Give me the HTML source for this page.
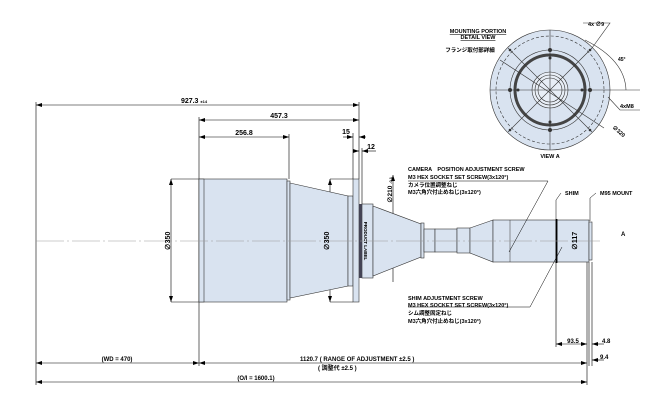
<!DOCTYPE html>
<html><head><meta charset="utf-8"><style>
html,body{margin:0;padding:0;background:#fff;}
svg{display:block;font-family:"Liberation Sans","Noto Sans CJK JP",sans-serif;font-weight:bold;}
</style></head><body>
<svg width="670" height="400" viewBox="0 0 670 400" xmlns="http://www.w3.org/2000/svg">
<defs>
<marker id="a" markerWidth="6" markerHeight="4" refX="6" refY="2" orient="auto-start-reverse" markerUnits="userSpaceOnUse"><path d="M0,0 L6,2 L0,4z" fill="#000"/></marker>
</defs>
<g stroke="#000" stroke-width="0.6" fill="none">
<!-- extension lines -->
<line x1="36" y1="102" x2="36" y2="385"/>
<line x1="199" y1="117" x2="199" y2="366"/>
<line x1="289" y1="134" x2="289" y2="179"/>
<line x1="359" y1="102" x2="359" y2="179"/>
<line x1="353" y1="133" x2="353" y2="179"/>
<line x1="362" y1="148" x2="362" y2="204"/>
<line x1="587" y1="262" x2="587" y2="385"/>
<line x1="589" y1="262" x2="589" y2="366"/>
<line x1="592" y1="262" x2="592" y2="366"/>
<line x1="556" y1="262" x2="556" y2="347"/>
<!-- dimension lines -->
<line x1="36" y1="105" x2="359" y2="105" marker-start="url(#a)" marker-end="url(#a)"/>
<line x1="199" y1="120" x2="359" y2="120" marker-start="url(#a)" marker-end="url(#a)"/>
<line x1="199" y1="137" x2="289" y2="137" marker-start="url(#a)" marker-end="url(#a)"/>
<line x1="343" y1="137" x2="353" y2="137" marker-end="url(#a)"/>
<line x1="359" y1="137" x2="366" y2="137" marker-start="url(#a)"/>
<line x1="354" y1="151" x2="359" y2="151" marker-end="url(#a)"/>
<line x1="362" y1="151" x2="376" y2="151" marker-start="url(#a)"/>
<line x1="36" y1="363" x2="199" y2="363" marker-start="url(#a)" marker-end="url(#a)"/>
<line x1="199" y1="363" x2="587" y2="363" marker-start="url(#a)" marker-end="url(#a)"/>
<line x1="36" y1="382" x2="587" y2="382" marker-start="url(#a)" marker-end="url(#a)"/>
<line x1="556" y1="344" x2="587" y2="344" marker-start="url(#a)" marker-end="url(#a)"/>
<line x1="592" y1="344" x2="604" y2="344" marker-start="url(#a)"/>
<line x1="592" y1="360" x2="604" y2="360" marker-start="url(#a)"/>
<!-- vertical dia dims -->
<line x1="171" y1="179" x2="171" y2="302" marker-start="url(#a)" marker-end="url(#a)"/>
<line x1="171" y1="179" x2="199" y2="179"/><line x1="171" y1="302" x2="199" y2="302"/>
<line x1="330" y1="179" x2="330" y2="302" marker-start="url(#a)" marker-end="url(#a)"/>
<line x1="330" y1="179" x2="353" y2="179"/><line x1="330" y1="302" x2="353" y2="302"/>
<line x1="393" y1="175" x2="393" y2="282" marker-start="url(#a)"/>
<line x1="578" y1="220" x2="578" y2="262" marker-start="url(#a)" marker-end="url(#a)"/>
</g>
<!-- body -->
<g stroke="#333" stroke-width="0.6" fill="#d9e3f0">
<rect x="199" y="179" width="88" height="123"/>
<rect x="199" y="179" width="5" height="123"/>
<rect x="287" y="181" width="3" height="119"/>
<path d="M290,183 L348,196 L348,286 L290,298z"/>
<rect x="348" y="196" width="5" height="90"/>
<rect x="353" y="179" width="6" height="123"/>
<rect x="362" y="204" width="11" height="74"/>
<path d="M373,206 L421,224 L421,257 L373,276z"/>
<rect x="421" y="223" width="3" height="35"/>
<rect x="424" y="229" width="11" height="23"/>
<rect x="435" y="229" width="22" height="23"/>
<rect x="457" y="228" width="13" height="25"/>
<path d="M470,228 L493,220 L493,262 L470,253z"/>
<rect x="493" y="220" width="63" height="42"/>
<rect x="557" y="220" width="32" height="42"/>
<rect x="589" y="222" width="3" height="38"/>
</g>
<rect x="359" y="204" width="3" height="74" fill="#445"/>
<line x1="556.5" y1="219" x2="556.5" y2="263" stroke="#000" stroke-width="1.8"/>
<line x1="510" y1="220" x2="510" y2="262" stroke="#333" stroke-width="0.5"/>
<!-- centerline -->
<line x1="36" y1="241" x2="600" y2="241" stroke="#999" stroke-width="0.6" stroke-dasharray="28,3,2,3"/>
<!-- leaders -->
<g stroke="#000" stroke-width="0.5" fill="none">
<polyline points="408,181 548,181 509,252"/>
<polyline points="408,307 530,307 562,247"/>
<polyline points="561,193 556,200 556,219"/>
<polyline points="596,193 590,198 590,221"/>
</g>
<!-- text -->
<g font-size="7" fill="#000">
<text x="194" y="103" text-anchor="middle">927.3 <tspan font-size="4">±14</tspan></text>
<text x="279" y="118" text-anchor="middle">457.3</text>
<text x="244" y="135" text-anchor="middle">256.8</text>
<text x="346" y="134" text-anchor="middle">15</text>
<text x="371" y="149" text-anchor="middle">12</text>
<text transform="translate(170,241) rotate(-90)" text-anchor="middle">∅350</text>
<text transform="translate(329,241) rotate(-90)" text-anchor="middle">∅350</text>
<text transform="translate(392,190) rotate(-90)" text-anchor="middle" font-size="6.5">∅210 <tspan font-size="4">-0.1</tspan></text>
<text transform="translate(577,241) rotate(-90)" text-anchor="middle">∅117</text>
<text transform="translate(364,241) rotate(90)" text-anchor="middle" font-size="4.5">PRODUCT LABEL</text>
<text x="408" y="171" font-size="5.5">CAMERA　POSITION ADJUSTMENT SCREW</text>
<text x="408" y="179" font-size="5.5">M3 HEX SOCKET SET SCREW(3x120°)</text>
<text x="408" y="187" font-size="5.5">カメラ位置調整ねじ</text>
<text x="408" y="194" font-size="5.5">M3六角穴付止めねじ(3x120°)</text>
<text x="408" y="300" font-size="5.5">SHIM ADJUSTMENT SCREW</text>
<text x="408" y="307" font-size="5.5">M3 HEX SOCKET SET SCREW(3x120°)</text>
<text x="408" y="315" font-size="5.5">シム調整固定ねじ</text>
<text x="408" y="323" font-size="5.5">M3六角穴付止めねじ(3x120°)</text>
<text x="565" y="195" font-size="5.5">SHIM</text>
<text x="600" y="195" font-size="5.5">M95 MOUNT</text>
<text x="621" y="236" font-size="6">A</text>
<text x="573" y="343" text-anchor="middle" font-size="6">93.5</text>
<text x="602" y="343" font-size="6">4.8</text>
<text x="600" y="359" font-size="6">9.4</text>
<text x="117" y="361" text-anchor="middle" font-size="6">(WD = 470)</text>
<text x="300" y="361" font-size="6">1120.7 ( RANGE OF ADJUSTMENT  ±2.5 )</text>
<text x="300" y="370" font-size="6">　　　( 調整代  ±2.5 )</text>
<text x="256" y="380" text-anchor="middle" font-size="6">(O/l = 1600.1)</text>
<text x="478" y="33" text-anchor="middle" font-size="5.5" text-decoration="underline">MOUNTING PORTION</text>
<text x="478" y="39" text-anchor="middle" font-size="5.5" text-decoration="underline">DETAIL VIEW</text>
<text x="470" y="52" text-anchor="middle" font-size="5.5">フランジ取付部詳細</text>
<text x="550" y="158" text-anchor="middle" font-size="5.5">VIEW A</text>
<text x="588" y="26" font-size="5.5">4x ∅9</text>
<text x="620" y="108" font-size="5.5">4xM8</text>
<text transform="translate(612,128) rotate(40)" font-size="5.5">∅320</text>
<text x="618" y="61" font-size="5">45°</text>
</g>
<!-- view A -->
<g stroke="#333" stroke-width="0.6" fill="none">
<circle cx="550" cy="90" r="60" fill="#d9e3f0"/>
<circle cx="550" cy="90" r="54" stroke-dasharray="3,2"/>
<circle cx="550" cy="90" r="40"/>
<circle cx="550" cy="90" r="35" stroke="#444" stroke-width="3"/>
<circle cx="550" cy="90" r="18" fill="#e8eef6"/>
<circle cx="550" cy="90" r="15"/>
<circle cx="550" cy="90" r="12"/>
<line x1="490" y1="90" x2="640" y2="90"/>
<line x1="550" y1="30" x2="550" y2="150"/>
<line x1="508" y1="48" x2="592" y2="132"/>
<line x1="592" y1="48" x2="508" y2="132"/>
<line x1="500" y1="60" x2="604" y2="128"/>
<path d="M585,40 Q625,60 626,90"/>
<polyline points="583,23 610,23 592,48"/>
<polyline points="640,110 620,110 608,97"/>
</g>
<g fill="#333">
<circle cx="510" cy="90" r="2"/><circle cx="590" cy="90" r="2"/>
<circle cx="550" cy="50" r="2"/><circle cx="550" cy="130" r="2"/>
<circle cx="518" cy="90" r="1.5"/><circle cx="582" cy="90" r="1.5"/>
<circle cx="550" cy="58" r="1.5"/><circle cx="550" cy="122" r="1.5"/>
<circle cx="510" cy="50" r="1.3"/><circle cx="590" cy="50" r="1.3"/>
<circle cx="510" cy="130" r="1.3"/><circle cx="590" cy="130" r="1.3"/>
</g>
</svg>
</body></html>
